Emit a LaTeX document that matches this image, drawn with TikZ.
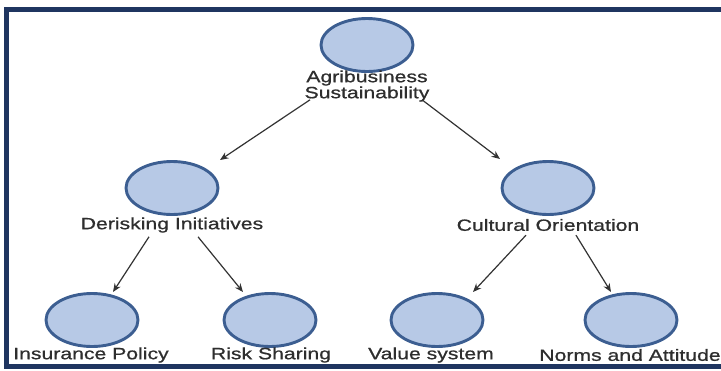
\documentclass[tikz,border=0pt]{standalone}
\usepackage{fontspec}
\setmainfont{Liberation Sans}
\newfontfamily\labfont[FakeStretch=1.3,FakeBold=0.8]{Liberation Sans}
\usetikzlibrary{shapes.geometric,calc,arrows.meta}
\definecolor{framenavy}{HTML}{1F3560}
\definecolor{bubblefill}{HTML}{B7C9E6}
\definecolor{bubbleedge}{HTML}{3C5E91}
\definecolor{linkgray}{HTML}{333333}
\tikzset{
  bubble/.style={ellipse, draw=bubbleedge, fill=bubblefill, line width=2.9pt,
    minimum width=92pt, minimum height=53pt, inner sep=0pt},
  caption/.style={font=\labfont\fontsize{16.3}{16}\selectfont, text=black!82,
    inner sep=0pt, align=center},
  link/.style={draw=linkgray, line width=1.2pt,
    -{Stealth[length=8.5pt,width=7pt]}},
}
\begin{document}
\begin{tikzpicture}[x=1pt,y=-1pt]
  \useasboundingbox (0,0) rectangle (721,370);
  \clip (0,0) rectangle (721,370);
  \fill[white] (0,0) rectangle (721,370);
  % outer frame
  \draw[framenavy, line width=5pt] (6,9.5) rectangle (735,366.5);

  % top level
  \node[bubble] (agri) at (367,45) {};
  \node[caption] (agriL) at (367,86) {Agribusiness\\Sustainability};

  % second level
  \node[bubble] (der) at (172,188) {};
  \node[caption] (derL) at (172,225) {Derisking Initiatives};
  \node[bubble] (cul) at (548,188) {};
  \node[caption] (culL) at (548,225) {Cultural Orientation};

  % third level
  \node[bubble] (ins) at (92,320) {};
  \node[caption] (insL) at (91,355) {Insurance Policy};
  \node[bubble] (risk) at (270,320) {};
  \node[caption] (riskL) at (271,355) {Risk Sharing};
  \node[bubble] (val) at (437,320) {};
  \node[caption] (valL) at (431,355) {Value system};
  \node[bubble] (norm) at (631,320) {};
  \node[caption] (normL) at (630,355) {Norms and Attitude};

  % connectors
  \draw[link] ($(agriL.south)+(-57,-2)$) -- ($(der.center)+(48,-28)$);
  \draw[link] ($(agriL.south)+(55,-2)$) -- ($(cul.center)+(-48,-29)$);
  \draw[link] ($(derL.south)+(-23,4)$) -- ($(ins.center)+(21,-28)$);
  \draw[link] ($(derL.south)+(26,4)$) -- ($(risk.center)+(-27,-28)$);
  \draw[link] ($(culL.south)+(-22,4)$) -- ($(val.center)+(36,-28)$);
  \draw[link] ($(culL.south)+(28,4)$) -- ($(norm.center)+(-20,-28)$);
\end{tikzpicture}
\end{document}
